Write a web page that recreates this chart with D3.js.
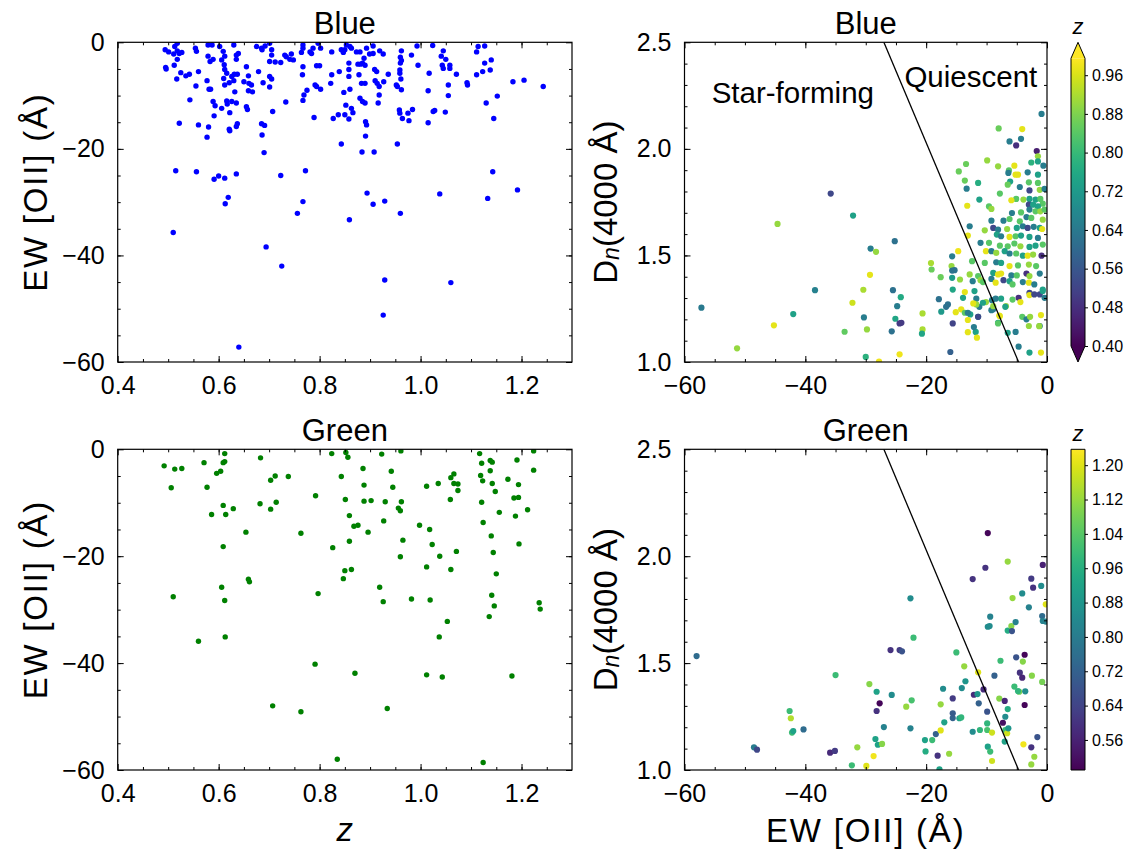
<!DOCTYPE html>
<html><head><meta charset="utf-8">
<script src="https://cdn.jsdelivr.net/npm/d3@7"></script>
<style>
body{margin:0;background:#fff}
svg{display:block}
text{font-family:"Liberation Sans",Arial,Helvetica,sans-serif;fill:#000}
</style>
</head><body>
<svg id="c" width="1129" height="852"></svg>
<script>
// ---------------- DATA ----------------
// Blue sample: redshift vs EW[OII]
const blueZ = [0.494,0.501,0.495,0.496,0.511,0.513,0.518,0.518,0.522,0.527,0.518,0.512,0.517,0.525,0.522,0.535,0.542,0.543,0.554,0.556,0.560,0.555,0.560,0.579,0.587,0.579,0.583,0.589,0.577,0.581,0.584,0.589,0.593,0.591,0.580,0.577,0.602,0.609,0.612,0.606,0.611,0.612,0.616,0.610,0.612,0.621,0.606,0.616,0.617,0.630,0.635,0.639,0.635,0.626,0.631,0.637,0.630,0.632,0.626,0.635,0.622,0.621,0.622,0.637,0.635,0.655,0.659,0.650,0.660,0.665,0.659,0.667,0.655,0.657,0.675,0.679,0.685,0.692,0.686,0.688,0.701,0.705,0.701,0.705,0.705,0.701,0.701,0.712,0.707,0.685,0.691,0.686,0.723,0.731,0.734,0.744,0.741,0.748,0.733,0.764,0.767,0.767,0.767,0.766,0.769,0.767,0.775,0.784,0.781,0.787,0.797,0.802,0.794,0.800,0.791,0.794,0.802,0.789,0.824,0.824,0.822,0.827,0.837,0.839,0.843,0.843,0.847,0.850,0.848,0.852,0.850,0.858,0.858,0.858,0.860,0.858,0.863,0.866,0.853,0.860,0.863,0.873,0.880,0.876,0.881,0.878,0.885,0.890,0.888,0.883,0.890,0.880,0.885,0.890,0.891,0.893,0.891,0.893,0.899,0.906,0.906,0.909,0.913,0.910,0.914,0.918,0.918,0.916,0.919,0.926,0.927,0.936,0.962,0.960,0.962,0.960,0.959,0.959,0.961,0.952,0.954,0.962,0.958,0.959,0.964,0.975,0.977,0.984,0.954,0.982,0.995,0.993,1.017,1.015,1.015,1.025,1.028,1.024,1.041,1.045,1.050,1.043,1.045,1.058,1.058,1.055,1.055,1.049,1.071,1.092,1.093,1.111,1.114,1.111,1.127,1.123,1.127,1.140,1.138,1.130,1.152,1.145,1.183,1.205,1.243,
0.690,0.884,0.908,0.515,0.556,0.591,0.600,0.612,0.635,0.619,0.613,0.723,0.772,0.767,0.756,0.859,0.894,0.906,0.929,0.960,1.038,1.133,1.143,1.192,0.510,0.694,0.725,0.929,1.060,0.926,0.640];
const blueEW = [-1.4,-1.8,-4.7,-5.0,-2.2,-0.8,-0.2,-1.6,-2.1,-1.9,-3.2,-4.3,-6.9,-5.7,-15.2,-6.3,-6.0,-10.8,-1.1,-1.7,-5.5,-8.2,-15.5,-0.5,-0.5,-2.6,-3.6,-3.2,-7.2,-8.8,-8.8,-11.1,-11.9,-13.8,-15.9,-17.8,-0.8,-1.7,-2.6,-3.3,-4.2,-5.1,-5.8,-6.8,-8.0,-7.6,-12.4,-11.0,-11.6,-0.5,-2.4,-2.1,-3.2,-6.4,-6.0,-6.0,-7.2,-9.3,-11.1,-11.4,-13.2,-16.3,-16.6,-15.3,-15.8,-4.6,-6.3,-7.4,-7.7,-8.0,-9.1,-9.3,-12.1,-12.6,-0.8,-5.5,-1.1,-0.7,-1.4,-7.6,-6.4,-6.9,-8.4,-1.4,-2.4,-0.2,-3.6,-3.7,-13.0,-15.3,-15.6,-17.4,-3.8,-2.4,-2.7,-2.2,-3.2,-3.3,-11.2,-1.9,-0.5,-1.1,-4.6,-6.1,-9.9,-10.9,-9.0,-2.1,-1.8,-1.1,-0.2,-1.1,-4.4,-4.4,-8.0,-8.3,-8.8,-14.1,-1.8,-6.1,-7.7,-14.3,-13.6,-5.5,-19.1,-1.4,-1.9,-1.4,-9.4,-11.8,-13.6,-3.9,-5.1,-6.4,-8.8,-14.4,-12.4,-13.2,-0.5,-0.8,-1.1,-1.8,-1.8,-4.1,-4.1,-6.1,-3.9,-4.3,-3.0,-7.7,-7.7,-10.5,-11.1,-11.4,-14.9,-15.5,-17.6,-1.1,-2.2,-2.1,-0.7,-5.1,-5.5,-7.2,-7.7,-8.3,-9.9,-11.4,-1.6,-2.2,-7.4,-6.0,-1.6,-2.8,-3.4,-3.9,-5.2,-5.8,-6.9,-8.0,-8.3,-8.9,-12.7,-13.3,-14.3,-13.3,-14.7,-12.6,-19.1,-2.4,-4.3,-0.7,-5.8,-9.1,-15.1,-13.0,-12.8,-0.6,-2.6,-1.6,-3.2,-4.3,-4.9,-4.3,-4.9,-8.0,-10.0,-13.1,-6.0,-7.6,-8.0,-6.1,-0.8,-1.8,-0.7,-5.5,-3.9,-3.3,-5.2,-11.4,-10.1,-14.3,-7.4,-7.1,-8.3,
-20.7,-20.6,-20.6,-24.1,-24.3,-25.7,-25.1,-25.5,-24.7,-29.1,-30.3,-25.0,-24.1,-29.9,-32.1,-33.3,-28.3,-30.4,-29.8,-32.1,-28.45,-29.3,-24.3,-27.7,-35.7,-38.4,-42.0,-44.6,-45.1,-51.2,-57.2];

// Blue sample: EW[OII] vs Dn(4000), coloured by z
const blueDnEW = [-35.8,-32.1,-44.6,-8.0,-4.1,-6.2,-4.3,-5.1,-1.7,-0.9,-57.2,-51.3,-45.2,-42.0,-38.4,-33.5,-29.2,-28.3,-29.3,-30.4,-32.2,-30.3,-29.8,-30.0,-27.8,-25.7,-25.1,-24.8,-24.2,-25.5,-25.2,-24.4,-24.1,-24.4,-20.6,-20.6,-20.7,-19.2,-19.1,-17.6,-17.9,-17.5,-16.7,-16.4,-15.7,-15.8,-15.7,-15.3,-15.7,-15.6,-15.6,-16.0,-14.7,
-1.5,-2.6,-1.5,-0.6,-13.4,-9.9,-8.1,-6.3,-5.4,-5.2,-4.8,-6.4,-3.2,-3.0,-1.5,-14.6,-13.6,-11.4,-13.3,-6.1,-6.5,-4.5,-2.9,-1.5,-1.2,-0.4,-7.8,-11.2,-5.1,-5.9,-3.9,-2.9,-1.9,-1.1,-0.7,-3.0,-2.3,-1.5,-13.2,-9.6,-9.2,-5.8,-4.3,-2.9,-1.9,-1.1,-0.4,-7.2,-6.2,-9.2,-4.5,-3.4,-2.6,-0.7,-12.8,-8.9,-8.1,-6.6,-5.0,-4.0,-3.2,-2.2,-1.2,-0.8,-10.3,-8.3,-7.6,-6.2,-5.2,-4.3,-2.9,-1.5,-13.1,-11.0,-9.6,-7.8,-6.5,-5.4,-4.4,-2.9,-1.9,-0.7,-10.1,-9.2,-8.4,-7.0,-6.2,-5.1,-4.0,-3.2,-2.3,-0.9,-12.4,-10.3,-8.4,-7.6,-6.2,-4.8,-3.0,-1.8,-12.8,-11.4,-8.9,-8.1,-7.6,-5.9,-5.0,-3.4,-2.9,-1.2,-14.4,-12.3,-11.0,-10.6,-9.2,-8.5,-7.2,-6.2,-5.7,-4.0,-3.0,-2.1,-13.6,-13.9,-12.0,-11.7,-10.1,-9.1,-7.6,-6.8,-5.7,-4.7,-4.4,-2.9,-1.2,-0.7,-0.4,-15.1,-14.2,-13.6,-12.7,-13.1,-11.2,-11.4,-8.9,-7.9,-6.9,-4.1,-3.4,-3.0,-1.2,-11.8,-11.6,-8.1,-6.5,-5.2,-4.7,-2.9,
-1.0,-1.0,-1.3,-2.8,-0.7,-2.9,-2.1,-12.1,-11.4,-13.1,-7.8,-8.1,-9.2,-10.6,-11.7,-12.2,-8.9,-8.5,-13.1];
const blueDn = [1.79,1.687,1.648,2.096,2.093,2.035,2.047,2.016,1.99,2.164,1.255,1.064,1.172,1.225,1.337,1.142,1.532,1.517,1.409,1.339,1.278,1.209,1.153,1.024,1.002,1.144,1.203,1.262,1.304,1.337,1.567,1.181,1.184,1.036,1.228,1.153,1.133,1.464,1.434,1.398,1.295,1.236,1.259,1.270,1.496,1.450,1.429,1.431,1.395,1.340,1.181,1.047,1.520,
1.965,1.936,1.941,1.921,1.929,1.946,1.918,1.899,1.921,1.879,1.879,1.887,1.890,1.843,1.879,1.894,1.851,1.840,1.813,1.847,1.832,1.821,1.805,1.840,1.808,1.812,1.790,1.762,1.765,1.759,1.762,1.765,1.762,1.765,1.743,1.738,1.738,1.730,1.733,1.730,1.718,1.699,1.702,1.715,1.707,1.707,1.715,1.663,1.671,1.663,1.660,1.680,1.676,1.668,1.637,1.629,1.621,1.624,1.629,1.637,1.629,1.634,1.629,1.624,1.618,1.598,1.590,1.587,1.590,1.593,1.587,1.582,1.593,1.559,1.559,1.546,1.543,1.556,1.543,1.540,1.546,1.551,1.520,1.520,1.512,1.520,1.509,1.509,1.499,1.499,1.504,1.499,1.473,1.465,1.468,1.465,1.450,1.453,1.457,1.450,1.411,1.403,1.418,1.411,1.415,1.406,1.406,1.415,1.403,1.415,1.387,1.379,1.384,1.375,1.390,1.372,1.384,1.379,1.364,1.375,1.372,1.364,1.328,1.301,1.333,1.297,1.281,1.290,1.297,1.262,1.293,1.301,1.281,1.325,1.317,1.333,1.301,1.234,1.247,1.231,1.223,1.197,1.259,1.212,1.247,1.218,1.259,1.212,1.200,1.169,1.169,1.141,1.114,1.184,1.137,1.141,1.072,1.044,
1.044,1.220,1.168,1.212,1.340,1.314,1.317,1.164,1.212,1.231,1.215,1.181,1.243,1.278,1.270,1.275,1.262,1.297,1.140];
const blueDnZ = [0.53,0.74,0.90,0.86,0.97,0.65,0.65,0.48,0.45,0.65,0.64,0.90,0.97,0.74,0.66,0.85,0.65,0.90,0.97,0.92,0.95,0.65,0.90,0.78,0.98,0.62,0.75,0.65,0.76,0.62,0.62,0.50,0.50,0.98,0.92,0.92,0.75,0.92,0.86,0.86,0.62,0.72,0.62,0.62,0.65,0.90,0.62,0.62,0.72,0.75,0.52,0.58,0.98,
0.90,0.78,0.74,0.65,0.86,0.90,0.90,0.84,0.97,0.97,0.97,0.65,0.65,0.84,0.74,0.86,0.86,0.77,0.65,0.74,0.86,0.65,0.53,0.84,0.90,0.65,0.84,0.74,0.84,0.97,0.90,0.74,0.74,0.84,0.84,0.53,0.74,0.74,0.97,0.84,0.90,0.65,0.84,0.65,0.84,0.90,0.84,0.65,0.84,0.65,0.84,0.65,0.84,0.90,0.65,0.53,0.65,0.90,0.74,0.65,0.53,0.65,0.74,0.97,0.90,0.74,0.65,0.97,0.84,0.74,0.74,0.65,0.97,0.65,0.84,0.84,0.84,0.84,0.90,0.74,0.74,0.84,0.97,0.65,0.90,0.74,0.65,0.84,0.74,0.97,0.90,0.48,0.84,0.84,0.65,0.74,0.97,0.84,0.90,0.84,0.90,0.84,0.74,0.97,0.97,0.65,0.84,0.48,0.90,0.65,0.90,0.65,0.90,0.84,0.65,0.97,0.53,0.74,0.84,0.65,0.97,0.65,0.97,0.74,0.74,0.65,0.90,0.65,0.74,0.90,0.84,0.48,0.97,0.53,0.53,0.74,0.65,0.97,0.97,0.84,0.74,0.97,0.65,0.65,0.65,0.97,0.74,0.84,0.65,0.90,0.65,0.74,0.97,0.74,0.74,0.65,0.65,0.74,
0.97,0.97,0.90,0.90,0.74,0.97,0.53,0.65,0.53,0.65,0.97,0.84,0.65,0.74,0.90,0.97,0.90,0.65,0.97];

// Green sample: redshift vs EW[OII]
const greenZ = [0.492,0.506,0.510,0.513,0.527,0.571,0.577,0.586,0.596,0.604,0.609,0.612,0.612,0.609,0.614,0.609,0.606,0.612,0.629,0.654,0.659,0.661,0.683,0.682,0.703,0.712,0.703,0.714,0.738,0.763,0.792,0.797,0.824,0.826,0.843,0.852,0.856,0.851,0.859,0.859,0.850,0.863,0.847,0.868,0.876,0.896,0.886,0.888,0.888,0.902,0.923,0.919,0.926,0.927,0.930,0.942,0.945,0.961,0.956,0.960,0.962,0.965,0.960,0.982,0.998,1.012,1.018,1.023,1.012,1.019,1.035,1.038,1.059,1.060,1.066,1.066,1.074,1.074,1.071,1.060,1.117,1.121,1.119,1.123,1.121,1.124,1.138,1.142,1.138,1.142,1.148,1.156,1.140,1.144,1.150,1.141,1.146,1.136,1.173,1.191,1.194,1.185,1.194,1.188,1.195,1.212,1.224,1.224,1.235,1.237,
0.560,0.613,0.707,0.763,0.791,0.870,0.835,0.934,1.037,1.053,1.012,1.043,1.124,1.181];
const greenEW = [-3.1,-7.2,-27.6,-3.7,-3.6,-2.5,-7.1,-12.2,-4.5,-4.1,-2.5,-2.3,-0.8,-10.5,-12.2,-18.2,-25.8,-28.3,-11.1,-15.5,-24.3,-24.8,-1.6,-10.2,-5.8,-5.0,-11.2,-9.9,-5.1,-15.7,-8.7,-27.0,-0.8,-18.4,-5.1,-0.6,-1.5,-9.4,-12.4,-17.2,-22.7,-22.5,-24.2,-14.4,-14.2,-15.5,-3.6,-6.7,-9.7,-9.6,-0.9,-25.8,-28.5,-13.4,-9.8,-4.1,-7.1,-0.3,-11.0,-11.5,-9.8,-17.0,-20.1,-28.0,-14.2,-6.9,-15.0,-17.8,-22.0,-28.2,-6.4,-20.0,-9.4,-5.3,-4.6,-6.4,-6.5,-7.7,-19.1,-22.5,-0.8,-2.6,-4.9,-5.9,-9.9,-13.7,-2.1,-2.4,-4.0,-6.4,-7.9,-11.8,-16.2,-19.3,-23.3,-27.3,-29.3,-31.3,-5.6,-2.0,-6.6,-9.1,-9.0,-12.5,-17.7,-11.3,-0.3,-3.9,-28.7,-29.9,
-35.9,-35.1,-48.0,-49.1,-40.2,-41.9,-58.0,-48.5,-35.1,-32.2,-42.2,-42.6,-58.6,-42.4];

// Green sample: EW[OII] vs Dn(4000), coloured by z
const greenDnEW = [-58.0,-48.5,-48.0,-42.6,-42.4,-42.2,-42.0,-40.3,-35.9,-35.1,-35.0,-32.3,-31.4,-29.9,-29.4,-28.7,-28.2,-27.7,-28.2,-28.4,-28.0,-27.3,-27.0,-25.7,-25.9,-24.4,-24.0,-22.6,-22.1,-23.3,-22.4,-22.6,-20.2,-20.1,-19.0,-18.4,-18.1,-17.8,-17.6,-17.6,-17.2,-17.0,-16.2,-15.6,-15.6,-15.6,-15.0,-14.5,-14.2,-14.1,-13.7,-13.5,-12.3,-12.3,-12.1,-11.5,-11.4,-11.3,-11.1,-10.5,-10.2,-9.9,-9.8,-9.5,-9.4,-9.9,-9.9,-9.1,-9.8,-9.4,-9.1,-8.7,-7.9,-7.7,-7.3,-7.0,-6.9,-6.9,-7.0,-6.6,-6.5,-6.4,-6.5,-5.9,-5.8,-6.5,-5.7,-5.2,-5.1,-4.6,-4.5,-4.1,-4.1,-4.0,-3.9,-3.7,-3.7,-3.6,-5.4,-4.8,-3.0,-2.6,-2.3,-2.5,-2.6,-2.1,-2.6,-1.6,-0.96,-0.8,-0.8,-0.7,-0.2,-0.2,-0.7,-9.8];
const greenDn = [1.533,1.106,1.095,1.276,1.242,1.175,1.182,1.190,1.081,1.089,1.444,1.022,1.106,1.019,1.402,1.065,1.366,1.312,1.276,1.145,1.118,1.122,1.201,1.351,1.561,1.561,1.555,1.803,1.619,1.296,1.326,1.195,1.140,1.087,1.140,1.168,1.067,1.003,1.185,1.307,1.380,1.223,1.076,1.243,1.265,1.335,1.550,1.242,1.246,1.383,1.485,1.415,1.893,1.179,1.352,1.355,1.457,1.312,1.187,1.377,1.946,1.273,1.670,1.673,1.717,1.218,1.187,1.175,1.109,1.086,1.042,1.441,1.334,1.511,1.221,1.323,1.249,1.187,1.133,1.172,1.285,1.195,1.652,1.673,1.650,1.975,1.804,1.692,1.527,1.366,1.455,1.432,1.826,1.507,1.120,1.539,1.304,1.368,1.390,1.369,1.761,1.895,1.853,1.441,1.106,1.062,1.026,1.154,1.861,1.412,1.720,1.697,1.694,1.775,1.959,2.108];
const greenDnZ = [0.75,0.80,0.65,1.00,1.15,1.00,0.92,0.75,0.58,0.62,1.00,1.00,1.12,1.20,1.10,1.22,0.92,0.50,0.60,0.92,0.92,1.10,0.82,0.85,0.60,0.62,0.68,0.85,1.00,1.12,1.02,0.82,0.92,0.95,1.00,0.72,0.60,0.92,1.20,1.12,0.85,0.92,1.12,0.72,0.70,0.62,1.00,0.92,0.98,0.85,1.12,0.88,0.60,0.85,0.58,0.88,1.20,0.72,0.98,0.58,0.60,0.68,0.85,0.85,0.82,0.98,1.02,1.18,0.92,1.00,1.18,0.72,1.10,1.00,0.52,0.57,0.85,1.00,0.92,1.18,0.95,0.88,0.95,1.10,0.68,1.12,1.12,0.82,0.68,1.08,0.60,0.57,0.85,1.10,1.22,0.50,0.50,0.85,1.00,0.98,0.82,0.62,0.60,1.10,0.60,1.12,1.12,0.68,0.85,1.08,0.75,0.82,0.82,1.20,0.56,0.50];

// Demarcation line between star-forming and quiescent
const lineEW = [-27.0, -4.7];
const lineDn = [2.5, 1.0];

// Axis ticks
const zTicks = [0.4, 0.6, 0.8, 1.0, 1.2];
const zMinor = d3.range(0.45, 1.3, 0.05);
const ewTicksLeft = [0, -20, -40, -60];
const ewMinorLeft = d3.range(-55, 0, 5);
const ewTicksRight = [-60, -40, -20, 0];
const ewMinorRight = d3.range(-55, 0, 5);
const dnTicks = [1.0, 1.5, 2.0, 2.5];
const dnMinor = d3.range(1.1, 2.45, 0.1);
const cbTicksBlue = [0.40, 0.48, 0.56, 0.64, 0.72, 0.80, 0.88, 0.96];
const cbTicksGreen = [0.56, 0.64, 0.72, 0.80, 0.88, 0.96, 1.04, 1.12, 1.20];
const cbRangeBlue = [0.40, 0.995];
const cbRangeGreen = [0.49, 1.237];

// ---------------- DRAW ----------------
const svg = d3.select('#c');
const minus = s => s.replace('-', '\u2212');
let clipId = 0;

const LX = [117.7, 572], RX = [684.5, 1047];
const TOPY = [362, 42.3], BOTY = [770, 449.3];
const TICKFONT = 25, LABELFONT = 33, EWFONT = 33, TITLEFONT = 31;

function frame(g, x, y, xt, xm, yt, ym, fx, fy){
  const [x0,x1] = x.range(), [yb,yt0] = y.range();
  const style = sel => { sel.select('.domain').remove(); sel.selectAll('line').attr('stroke','#000').attr('stroke-width',1); sel.selectAll('text').attr('font-size',TICKFONT).attr('fill','#000'); };
  g.append('g').attr('transform',`translate(0,${yb})`).call(d3.axisBottom(x).tickValues(xt).tickSize(-6).tickPadding(14).tickFormat(fx)).call(style);
  g.append('g').attr('transform',`translate(0,${yb})`).call(d3.axisBottom(x).tickValues(xm).tickSize(-3).tickFormat('')).call(style);
  g.append('g').attr('transform',`translate(0,${yt0})`).call(d3.axisTop(x).tickValues(xt).tickSize(-6).tickFormat('')).call(style);
  g.append('g').attr('transform',`translate(0,${yt0})`).call(d3.axisTop(x).tickValues(xm).tickSize(-3).tickFormat('')).call(style);
  g.append('g').attr('transform',`translate(${x0},0)`).call(d3.axisLeft(y).tickValues(yt).tickSize(-6).tickPadding(13).tickFormat(fy)).call(style);
  g.append('g').attr('transform',`translate(${x0},0)`).call(d3.axisLeft(y).tickValues(ym).tickSize(-3).tickFormat('')).call(style);
  g.append('g').attr('transform',`translate(${x1},0)`).call(d3.axisRight(y).tickValues(yt).tickSize(-6).tickFormat('')).call(style);
  g.append('g').attr('transform',`translate(${x1},0)`).call(d3.axisRight(y).tickValues(ym).tickSize(-3).tickFormat('')).call(style);
  g.append('rect').attr('x',x0).attr('y',yt0).attr('width',x1-x0).attr('height',yb-yt0)
    .attr('fill','none').attr('stroke','#000').attr('stroke-width',1.2);
}
function clip(g, x, y){
  const id = 'clip'+(clipId++);
  const [x0,x1] = x.range(), [yb,yt0] = y.range();
  g.append('clipPath').attr('id',id).append('rect').attr('x',x0).attr('y',yt0).attr('width',x1-x0).attr('height',yb-yt0);
  return g.append('g').attr('clip-path',`url(#${id})`);
}
function title(txt, x, y){
  svg.append('text').attr('x',(x.range()[0]+x.range()[1])/2).attr('y',y.range()[1]-8)
    .attr('text-anchor','middle').attr('font-size',TITLEFONT).text(txt);
}
function ylabelEW(cx, cy){
  svg.append('text').attr('transform',`translate(${cx},${cy}) rotate(-90)`).attr('text-anchor','middle')
    .attr('dominant-baseline','central').attr('font-size',EWFONT).attr('letter-spacing',1.8).text('EW [OII] (\u00c5)');
}
function ylabelDn(cx, cy){
  const t = svg.append('text').attr('transform',`translate(${cx},${cy}) rotate(-90)`).attr('text-anchor','middle')
    .attr('dominant-baseline','central').attr('font-size',LABELFONT);
  t.append('tspan').text('D');
  t.append('tspan').attr('font-size',LABELFONT*0.7).attr('font-style','italic').attr('dy',6).text('n');
  t.append('tspan').attr('dy',-6).text('(4000 \u00c5)');
}
const fz = d => d.toFixed(1);
const fe = d => minus(String(d));
const fd = d => d.toFixed(1);

// --- left panels
function leftPanel(Z, EW, yr, colour, name, showX){
  const x = d3.scaleLinear().domain([0.4,1.3]).range(LX);
  const y = d3.scaleLinear().domain([-60,0]).range(yr);
  const g = svg.append('g');
  const c = clip(g, x, y);
  c.selectAll('circle').data(Z).join('circle')
    .attr('cx',d=>x(d)).attr('cy',(d,i)=>y(EW[i])).attr('r',2.7).attr('fill',colour);
  frame(g, x, y, zTicks, zMinor, ewTicksLeft, ewMinorLeft, fz, fe);
  title(name, x, y);
  ylabelEW(35, (yr[0]+yr[1])/2 - 10);
  if (showX) svg.append('text').attr('x',(LX[0]+LX[1])/2).attr('y',841).attr('text-anchor','middle')
    .attr('font-size',LABELFONT).attr('font-style','italic').text('z');
}
leftPanel(blueZ, blueEW, TOPY, '#0000ff', 'Blue', false);
leftPanel(greenZ, greenEW, BOTY, '#008000', 'Green', true);

// --- right panels
function rightPanel(EW, DN, Z, yr, cRange, cTicks, extend, name, showX, labels){
  const x = d3.scaleLinear().domain([-60,0]).range(RX);
  const y = d3.scaleLinear().domain([1.0,2.5]).range(yr);
  const col = d3.scaleSequential(d3.interpolateViridis).domain(cRange).clamp(true);
  const g = svg.append('g');
  const c = clip(g, x, y);
  c.selectAll('circle').data(EW).join('circle')
    .attr('cx',d=>x(d)).attr('cy',(d,i)=>y(DN[i])).attr('r',3.1).attr('fill',(d,i)=>col(Z[i]));
  c.append('path').datum(lineEW.map((e,i)=>[e,lineDn[i]]))
    .attr('d', d3.line().x(d=>x(d[0])).y(d=>y(d[1]))).attr('stroke','#000').attr('stroke-width',1.3).attr('fill','none');
  frame(g, x, y, ewTicksRight, ewMinorRight, dnTicks, dnMinor, fe, fd);
  title(name, x, y);
  ylabelDn(605, (yr[0]+yr[1])/2);
  if (showX) svg.append('text').attr('x',(RX[0]+RX[1])/2).attr('y',842).attr('text-anchor','middle')
    .attr('font-size',EWFONT).attr('letter-spacing',1.8).text('EW [OII] (\u00c5)');
  if (labels){
    svg.append('text').attr('x',x(-55.5)).attr('y',y(2.217)).attr('font-size',29.5).text('Star-forming');
    svg.append('text').attr('x',x(-23.6)).attr('y',y(2.292)).attr('font-size',29.5).text('Quiescent');
  }
  // colourbar
  const bx = 1071, bw = 14;
  let top = yr[1], bot = yr[0];
  const ext = extend ? (bot-top)*0.05 : 0;
  const cy = d3.scaleLinear().domain(cRange).range([bot-ext, top+ext]);
  const gid = 'grad'+name;
  const grad = svg.append('defs').append('linearGradient').attr('id',gid)
    .attr('x1',0).attr('y1',1).attr('x2',0).attr('y2',0);
  d3.range(0,1.0001,0.02).forEach(t => grad.append('stop').attr('offset',t).attr('stop-color',d3.interpolateViridis(t)));
  svg.append('rect').attr('x',bx).attr('y',top+ext).attr('width',bw).attr('height',bot-top-2*ext).attr('fill',`url(#${gid})`);
  let outline;
  if (extend){
    svg.append('path').attr('d',`M${bx},${top+ext}L${bx+bw/2},${top}L${bx+bw},${top+ext}Z`).attr('fill',d3.interpolateViridis(1));
    svg.append('path').attr('d',`M${bx},${bot-ext}L${bx+bw/2},${bot}L${bx+bw},${bot-ext}Z`).attr('fill',d3.interpolateViridis(0));
    outline = `M${bx},${top+ext}L${bx+bw/2},${top}L${bx+bw},${top+ext}L${bx+bw},${bot-ext}L${bx+bw/2},${bot}L${bx},${bot-ext}Z`;
  } else {
    outline = `M${bx},${top}H${bx+bw}V${bot}H${bx}Z`;
  }
  svg.append('path').attr('d',outline).attr('fill','none').attr('stroke','#000').attr('stroke-width',1);
  const ca = svg.append('g').attr('transform',`translate(${bx+bw},0)`)
    .call(d3.axisRight(cy).tickValues(cTicks).tickSize(3).tickPadding(4).tickFormat(d=>d.toFixed(2)));
  ca.select('.domain').remove();
  ca.selectAll('line').attr('stroke','#000');
  ca.selectAll('text').attr('font-size',16).attr('fill','#000');
  svg.append('text').attr('x',bx+bw/2).attr('y',top-8).attr('text-anchor','middle')
    .attr('font-size',22).attr('font-style','italic').text('z');
}
rightPanel(blueDnEW, blueDn, blueDnZ, TOPY, cbRangeBlue, cbTicksBlue, true, 'Blue', false, true);
rightPanel(greenDnEW, greenDn, greenDnZ, BOTY, cbRangeGreen, cbTicksGreen, false, 'Green', true, false);
</script>
</body></html>
